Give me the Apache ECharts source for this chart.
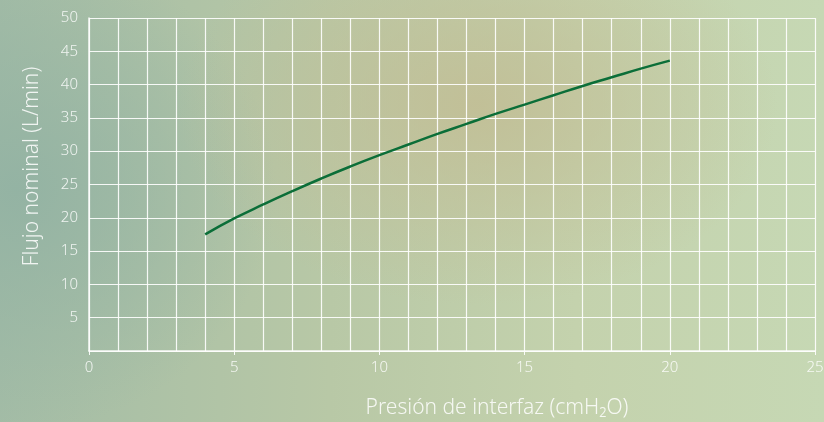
<!DOCTYPE html>
<html>
<head>
<meta charset="utf-8">
<script src="https://cdn.jsdelivr.net/npm/echarts@6/dist/echarts.min.js"></script>
<style>
  html, body { margin: 0; padding: 0; }
  body {
    width: 824px;
    height: 422px;
    overflow: hidden;
    background:
      radial-gradient(ellipse 300px 200px at 58% 25%, rgba(194, 189, 148, 0.85), rgba(194, 189, 148, 0) 100%),
      radial-gradient(ellipse 260px 240px at 2% 45%, rgba(146, 178, 163, 0.9), rgba(146, 178, 163, 0) 100%),
      linear-gradient(90deg, #a3bca6 0%, #b8c8a6 40%, #c4d2ad 70%, #c6d8b4 100%);
  }
  #chart { width: 824px; height: 422px; }
</style>
</head>
<body>
<div id="chart"></div>
<script>
// Presión de interfaz (cmH2O) vs flujo nominal (L/min)
const pressure = [4, 5, 6, 7, 8, 9, 10, 11, 12, 13, 14, 15, 16, 17, 18, 19, 20]
const flow = [17.5, 19.9, 22.0, 24.0, 25.9, 27.7, 29.4, 31.0, 32.6, 34.1, 35.6, 37.0, 38.4, 39.8, 41.1, 42.4, 43.6]

const labelColor = 'rgba(255, 255, 255, 0.85)'
const gridColor = 'rgba(255, 255, 255, 0.9)'
const fontFamily = '"Noto Sans", "Open Sans", sans-serif'

const chart = echarts.init(document.getElementById('chart'))

chart.setOption({
  backgroundColor: 'transparent',
  animation: false,
  grid: {
    left: 89,
    right: 9,
    top: 18,
    bottom: 71,
    outerBoundsMode: 'none',
  },
  xAxis: {
    type: 'value',
    min: 0,
    max: 25,
    interval: 5,
    name: 'Presión de interfaz (cmH₂O)',
    nameLocation: 'middle',
    nameGap: 47,
    nameTextStyle: {
      color: labelColor,
      fontSize: 21,
      fontWeight: 300,
      fontFamily,
      padding: [0, 0, 0, 90],
    },
    axisLine: { lineStyle: { color: gridColor, width: 1.5 } },
    axisTick: { show: true, length: 4, lineStyle: { color: gridColor } },
    axisLabel: {
      color: labelColor,
      fontSize: 15,
      fontWeight: 300,
      fontFamily,
      margin: 9,
    },
    splitLine: { show: true, lineStyle: { color: gridColor, width: 1.2 } },
    minorTick: { show: false, splitNumber: 5 },
    minorSplitLine: { show: true, lineStyle: { color: gridColor, width: 1.2 } },
  },
  yAxis: {
    type: 'value',
    min: 0,
    max: 50,
    interval: 5,
    name: 'Flujo nominal (L/min)',
    nameLocation: 'middle',
    nameGap: 46,
    nameTextStyle: {
      color: labelColor,
      fontSize: 21,
      fontWeight: 300,
      fontFamily,
      padding: [0, 0, 0, 36],
    },
    axisLine: { show: true, lineStyle: { color: gridColor, width: 1.5 } },
    axisTick: { show: false },
    axisLabel: {
      color: labelColor,
      fontSize: 15,
      fontWeight: 300,
      fontFamily,
      margin: 11,
      formatter: (v) => (v === 0 ? '' : String(v)),
    },
    splitLine: { show: true, lineStyle: { color: gridColor, width: 1.2 } },
  },
  series: [
    {
      type: 'line',
      data: pressure.map((p, i) => [p, flow[i]]),
      smooth: true,
      showSymbol: false,
      lineStyle: { color: '#0b6e38', width: 2.5 },
    },
  ],
})
</script>
</body>
</html>
